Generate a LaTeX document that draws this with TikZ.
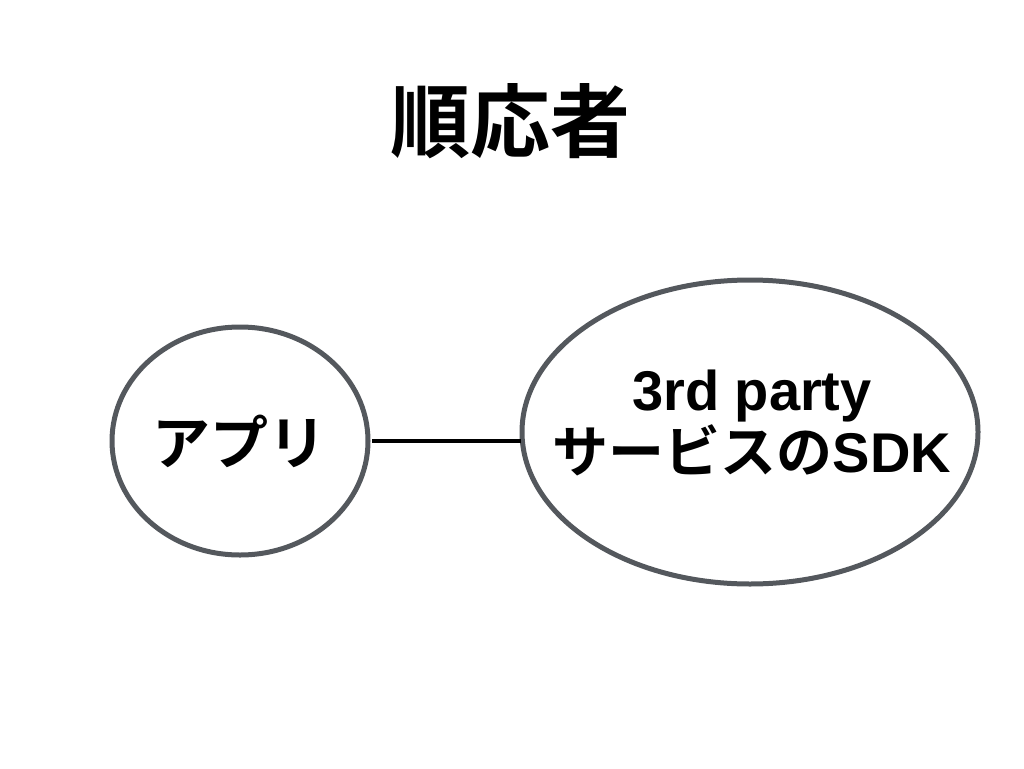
\documentclass[tikz,border=0pt]{standalone}
\usepackage{fontspec}
\newfontfamily\cjk{Noto Sans CJK JP}[BoldFont={Noto Sans CJK JP Bold}]
\newfontfamily\lat{Liberation Sans}
\definecolor{edge}{HTML}{54585D}
\tikzset{
  bubble/.style={draw=edge, line width=5pt},
  lbl/.style={align=center, font=\cjk\bfseries},
  link/.style={draw=black, line width=4.5pt}
}
\begin{document}
\begin{tikzpicture}[x=1pt,y=-1pt]
\useasboundingbox (0,0) rectangle (1024,768);
\node[lbl, font=\cjk\bfseries\fontsize{80}{90}\selectfont] (title) at (510,121) {順応者};
\draw[bubble] (240,441) ellipse [x radius=128, y radius=114];
\node[lbl, font=\cjk\bfseries\fontsize{58}{60}\selectfont] (app) at (239,441) {アプリ};
\coordinate (appR) at (372,441);
\draw[bubble] (750,432) ellipse [x radius=228, y radius=152];
\node[lbl, font=\cjk\bfseries\fontsize{56}{62}\selectfont] (sdk) at (752,423) {{\lat\bfseries 3rd party}\\サービスの{\lat\bfseries SDK}};
\coordinate (sdkL) at (521,441);
\draw[link] (appR) -- (sdkL);
\end{tikzpicture}
\end{document}
